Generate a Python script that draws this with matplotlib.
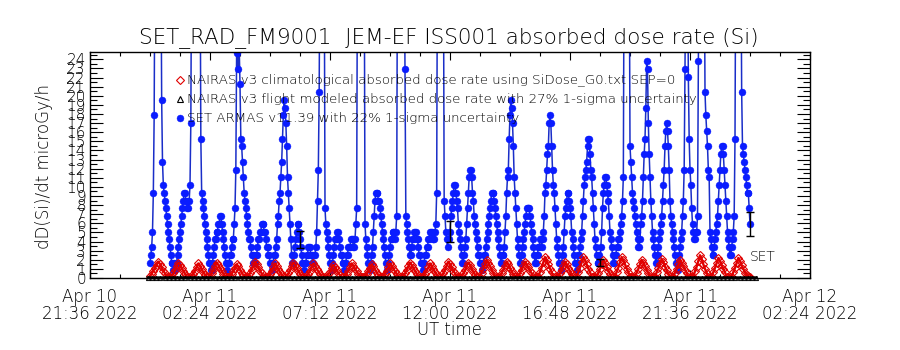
import numpy as np
import datetime as dt
import matplotlib
matplotlib.use("Agg")
import matplotlib.pyplot as plt
from matplotlib.lines import Line2D
from matplotlib.ticker import MultipleLocator

# ---------------- data ----------------
title = "SET_RAD_FM9001  JEM-EF ISS001 absorbed dose rate (Si)"
y_label = "dD(Si)/dt microGy/h"
x_label = "UT time"
legend_labels = [
    "NAIRAS v3 climatological absorbed dose rate using SiDose_G0.txt SEP=0",
    "NAIRAS v3 flight modeled absorbed dose rate with 27% 1-sigma uncertainty",
    "SET ARMAS v11.39 with 22% 1-sigma uncertainty",
]
x_tick_labels = ["Apr 10\n21:36 2022", "Apr 11\n02:24 2022", "Apr 11\n07:12 2022",
                 "Apr 11\n12:00 2022", "Apr 11\n16:48 2022", "Apr 11\n21:36 2022",
                 "Apr 12\n02:24 2022"]
y_tick_labels = [str(v) for v in range(0, 25)]

axis_start = dt.datetime(2022, 4, 10, 21, 36)
axis_end = dt.datetime(2022, 4, 12, 2, 24)

# SET ARMAS: counts per 2-minute sample starting Apr 11 00:00 (one row = one hour)
set_start = dt.datetime(2022, 4, 11, 0, 0)
set_step_min = 2
set_dose_per_count = 0.85
set_counts = [
    2, 3, 4, 6, 11, 21, 45, 45, 45, 45, 45, 45, 45, 45, 23, 15, 12, 11, 10, 9, 8, 7, 6, 5, 4, 3, 2, 2, 1, 2,
    1, 2, 2, 3, 4, 5, 6, 7, 8, 9, 10, 11, 11, 10, 10, 9, 9, 10, 12, 20, 45, 45, 45, 45, 45, 45, 45, 45, 45, 45,
    45, 18, 11, 10, 9, 8, 7, 6, 5, 4, 3, 2, 2, 1, 1, 2, 3, 4, 5, 5, 6, 6, 7, 7, 8, 8, 7, 6, 5, 4,
    3, 2, 2, 1, 2, 2, 3, 3, 4, 5, 5, 7, 9, 14, 30, 29, 27, 30, 25, 18, 17, 15, 13, 11, 10, 9, 8, 7, 6, 5,
    5, 4, 3, 3, 2, 2, 2, 3, 3, 4, 5, 5, 6, 6, 7, 7, 7, 6, 6, 5, 4, 4, 3, 3, 2, 2, 1, 2, 2, 3,
    3, 4, 5, 7, 8, 10, 11, 13, 15, 18, 21, 23, 22, 20, 17, 13, 11, 9, 7, 5, 3, 2, 2, 3, 4, 5, 6, 7, 7, 6,
    5, 4, 3, 2, 2, 1, 2, 2, 3, 3, 4, 4, 4, 3, 3, 2, 2, 3, 3, 4, 6, 10, 14, 24, 45, 45, 45, 45, 45, 45,
    9, 7, 6, 5, 4, 3, 2, 2, 1, 2, 3, 4, 5, 5, 6, 6, 5, 5, 4, 3, 3, 2, 2, 1, 2, 2, 3, 3, 4, 4,
    4, 5, 5, 5, 4, 4, 5, 7, 9, 45, 45, 45, 45, 45, 45, 45, 45, 45, 7, 5, 4, 3, 2, 2, 1, 2, 3, 4, 6, 8,
    10, 11, 11, 11, 10, 10, 9, 8, 7, 6, 5, 4, 3, 2, 2, 1, 2, 3, 4, 5, 5, 6, 6, 6, 5, 6, 8, 45, 45, 45,
    45, 45, 45, 45, 45, 45, 27, 8, 7, 6, 5, 4, 3, 3, 4, 5, 5, 6, 6, 6, 5, 5, 4, 3, 3, 2, 2, 1, 2, 2,
    3, 3, 4, 4, 5, 5, 6, 6, 6, 5, 5, 5, 6, 7, 11, 45, 45, 45, 45, 45, 45, 45, 45, 10, 8, 6, 5, 4, 5, 5,
    6, 8, 9, 10, 11, 12, 12, 11, 10, 9, 7, 6, 5, 4, 3, 2, 2, 3, 4, 5, 7, 9, 11, 13, 14, 14, 13, 11, 10, 8,
    7, 6, 5, 4, 3, 3, 2, 2, 1, 2, 2, 3, 3, 4, 5, 6, 7, 8, 9, 10, 11, 11, 11, 10, 9, 8, 7, 6, 5, 4,
    3, 2, 2, 3, 3, 4, 6, 8, 11, 13, 14, 18, 21, 23, 22, 20, 17, 13, 11, 9, 7, 5, 4, 3, 2, 2, 3, 4, 5, 6,
    7, 8, 9, 9, 9, 9, 8, 7, 6, 5, 4, 3, 2, 2, 3, 3, 4, 4, 5, 5, 4, 5, 6, 8, 11, 12, 14, 16, 17, 20,
    21, 20, 17, 14, 12, 11, 9, 7, 5, 4, 3, 2, 2, 1, 2, 3, 4, 6, 8, 9, 10, 11, 11, 10, 9, 8, 6, 5, 4, 3,
    2, 2, 1, 2, 3, 3, 4, 5, 6, 8, 10, 12, 13, 14, 15, 17, 18, 18, 16, 14, 13, 11, 9, 7, 5, 4, 3, 2, 2, 3,
    2, 4, 6, 9, 11, 12, 13, 13, 12, 11, 10, 8, 6, 5, 4, 3, 2, 2, 3, 3, 4, 4, 5, 5, 6, 7, 8, 10, 13, 45,
    45, 45, 45, 45, 45, 45, 17, 15, 13, 11, 10, 9, 8, 7, 6, 5, 4, 4, 5, 7, 8, 10, 13, 16, 18, 22, 28, 27, 20, 16,
    13, 10, 8, 6, 5, 4, 3, 2, 2, 3, 4, 5, 6, 7, 8, 10, 12, 14, 17, 19, 20, 19, 17, 14, 10, 8, 7, 6, 5, 4,
    3, 2, 2, 1, 2, 3, 4, 5, 6, 8, 10, 14, 27, 45, 45, 45, 26, 18, 14, 12, 9, 7, 6, 5, 5, 6, 6, 8, 28, 45,
    45, 45, 45, 45, 45, 45, 24, 21, 19, 17, 14, 13, 6, 5, 4, 3, 3, 4, 5, 6, 7, 8, 10, 12, 14, 16, 17, 17, 16, 14,
    12, 10, 8, 6, 5, 4, 3, 3, 4, 5, 6, 8, 18, 45, 45, 45, 45, 45, 45, 45, 24, 17, 16, 15, 14, 13, 12, 11, 11, 9,
    7,
]
set_errorbar_first = 180
set_errorbar_every = 180
set_rel_sigma = 0.22

# NAIRAS climatological: 4-minute samples starting Apr 11 00:00
nairas_clim_start = dt.datetime(2022, 4, 11, 0, 0)
nairas_clim_step_min = 4
nairas_clim = [
    0.2, 0.45, 0.8, 1.1, 1.45,
    1.8, 1.53, 1.17, 0.81, 0.5, 0.15, 0.1, 0.1, 0.15, 0.51, 0.85, 1.28,
    1.7, 1.45, 1.1, 0.77, 0.48, 0.15, 0.1, 0.1, 0.15, 0.48, 0.8, 1.2,
    1.6, 1.36, 0.96, 0.64, 0.35, 0.12, 0.1, 0.15, 0.51, 0.85, 1.28,
    1.7, 1.45, 1.1, 0.77, 0.48, 0.15, 0.1, 0.1, 0.15, 0.45, 0.75, 1.13,
    1.5, 1.28, 0.9, 0.6, 0.33, 0.12, 0.1, 0.15, 0.54, 0.9, 1.35,
    1.8, 1.53, 1.17, 0.81, 0.5, 0.15, 0.1, 0.1, 0.15, 0.48, 0.8, 1.2,
    1.6, 1.36, 0.96, 0.64, 0.35, 0.12, 0.1, 0.15, 0.51, 0.85, 1.28,
    1.7, 1.45, 1.1, 0.77, 0.48, 0.15, 0.1, 0.1, 0.15, 0.48, 0.8, 1.2,
    1.6, 1.36, 1.04, 0.72, 0.45, 0.15, 0.1, 0.1, 0.15, 0.42, 0.7, 1.05,
    1.4, 1.19, 0.84, 0.56, 0.31, 0.12, 0.1, 0.15, 0.48, 0.8, 1.2,
    1.6, 1.36, 1.04, 0.72, 0.45, 0.15, 0.1, 0.1, 0.15, 0.45, 0.75, 1.13,
    1.5, 1.28, 0.9, 0.6, 0.33, 0.12, 0.1, 0.15, 0.48, 0.8, 1.2,
    1.6, 1.36, 1.04, 0.72, 0.45, 0.15, 0.1, 0.1, 0.15, 0.51, 0.85, 1.28,
    1.7, 1.45, 1.1, 0.77, 0.48, 0.15, 0.1, 0.1, 0.15, 0.48, 0.8, 1.2,
    1.6, 1.36, 0.96, 0.64, 0.35, 0.12, 0.1, 0.15, 0.54, 0.9, 1.35,
    1.8, 1.53, 1.17, 0.81, 0.5, 0.15, 0.1, 0.1, 0.15, 0.51, 0.85, 1.28,
    1.7, 1.45, 1.02, 0.68, 0.37, 0.12, 0.1, 0.15, 0.6, 1.0, 1.5,
    2.0, 1.7, 1.3, 0.9, 0.56, 0.15, 0.1, 0.1, 0.15, 0.54, 0.9, 1.35,
    1.8, 1.53, 1.08, 0.72, 0.4, 0.12, 0.1, 0.15, 0.54, 0.9, 1.35,
    1.8, 1.53, 1.17, 0.81, 0.5, 0.15, 0.1, 0.1, 0.15, 0.69, 1.15, 1.73,
    2.3, 1.96, 1.5, 1.04, 0.64, 0.15, 0.1, 0.1, 0.15, 0.54, 0.9, 1.35,
    1.8, 1.53, 1.08, 0.72, 0.4, 0.12, 0.1, 0.15, 0.69, 1.15, 1.73,
    2.3, 1.96, 1.5, 1.04, 0.64, 0.15, 0.1, 0.1, 0.15, 0.6, 1.0, 1.5,
    2.0, 1.7, 1.2, 0.8, 0.44, 0.12, 0.1, 0.15, 0.69, 1.15, 1.73,
    2.3, 1.96, 1.5, 1.04, 0.64, 0.15, 0.1, 0.1, 0.15, 0.6, 1.0, 1.5,
    2.0, 1.7, 1.3, 0.9, 0.56, 0.15, 0.1, 0.1, 0.15, 0.63, 1.05, 1.58,
    2.1, 1.79, 1.26, 0.84, 0.46, 0.12, 0.1, 0.15, 0.6, 1.0, 1.5,
    2.0, 1.7, 1.3, 0.9, 0.56, 0.15, 0.1, 0.1, 0.15, 0.75, 1.25, 1.88,
    2.5, 2.13, 1.5, 1.0, 0.55, 0.12, 0.1, 0.15, 0.66, 1.1, 1.65,
    2.2, 1.87, 1.43, 0.99, 0.62, 0.15, 0.1, 0.1, 0.15, 0.66, 1.1, 1.65,
    2.2, 1.85, 1.4, 1.0, 0.6, 0.35, 0.2, 0.15,
]

# NAIRAS flight modeled: 10-minute samples starting Apr 10 23:55
nairas_flight_start = dt.datetime(2022, 4, 10, 23, 55)
nairas_flight_step_min = 10
nairas_flight = [
    0.02, 0.02, 0.02, 0.03, 0.02, 0.02, 0.02, 0.02, 0.03, 0.02, 0.02, 0.02,
    0.02, 0.02, 0.03, 0.02, 0.02, 0.02, 0.02, 0.02, 0.03, 0.02, 0.02, 0.02,
    0.02, 0.02, 0.02, 0.03, 0.02, 0.02, 0.02, 0.02, 0.02, 0.03, 0.02, 0.02,
    0.02, 0.02, 0.03, 0.02, 0.02, 0.02, 0.02, 0.02, 0.03, 0.02, 0.02, 0.02,
    0.02, 0.02, 0.02, 0.03, 0.02, 0.02, 0.02, 0.02, 0.02, 0.03, 0.02, 0.02,
    0.02, 0.02, 0.03, 0.02, 0.02, 0.02, 0.02, 0.02, 0.03, 0.02, 0.02, 0.02,
    0.02, 0.02, 0.02, 0.03, 0.02, 0.02, 0.02, 0.02, 0.02, 0.03, 0.02, 0.02,
    0.02, 0.02, 0.03, 0.02, 0.02, 0.02, 0.02, 0.02, 0.03, 0.02, 0.02, 0.02,
    0.02, 0.02, 0.02, 0.03, 0.02, 0.02, 0.02, 0.02, 0.02, 0.03, 0.02, 0.02,
    0.02, 0.02, 0.03, 0.02, 0.02, 0.02, 0.02, 0.02, 0.03, 0.02, 0.02, 0.02,
    0.02, 0.02, 0.02, 0.03, 0.02, 0.02, 0.02, 0.02, 0.02, 0.03, 0.02, 0.02,
    0.02, 0.02, 0.03, 0.02, 0.02, 0.02, 0.02, 0.02, 0.03, 0.02, 0.02, 0.02,
    0.02, 0.02, 0.02,
]

# ---------------- helpers ----------------
def time_axis(start, step_min, n):
    return np.array([start + dt.timedelta(minutes=step_min * i) for i in range(n)])

set_vals = np.array(set_counts, dtype=float) * set_dose_per_count
set_t = time_axis(set_start, set_step_min, len(set_vals))
clim_t = time_axis(nairas_clim_start, nairas_clim_step_min, len(nairas_clim))
flight_t = time_axis(nairas_flight_start, nairas_flight_step_min, len(nairas_flight))

W, H = 900, 350
fig = plt.figure(figsize=(W / 100, H / 100), dpi=100)
fig.patch.set_facecolor("white")
ax = fig.add_axes([90 / W, 1 - 278 / H, 720 / W, 226 / H])

FONT = "DejaVu Sans"
WEIGHT = "light"

blue_line = "#1a2ec8"
blue_dot = "#0a1cff"
red = "#e00000"

ax.plot(set_t, set_vals, color=blue_line, lw=1.1, zorder=2)
ax.plot(set_t, set_vals, ls="none", marker="o", ms=5.0, mfc=blue_dot, mec=blue_dot,
        mew=0.3, zorder=2.5)

ax.plot(clim_t, nairas_clim, color=red, lw=1.7, zorder=3)
ax.plot(clim_t, nairas_clim, ls="none", marker="D", ms=4.0, mfc="none",
        mec=red, mew=0.8, zorder=3.1)

ax.plot(flight_t, nairas_flight, color="black", lw=2.2, marker="^", ms=3.0, mfc="none",
        mec="black", mew=0.7, zorder=4, clip_on=False)

idx = np.arange(set_errorbar_first, len(set_vals), set_errorbar_every)
ax.errorbar(set_t[idx], set_vals[idx], yerr=set_rel_sigma * set_vals[idx], fmt="none",
            ecolor="black", elinewidth=1.0, capsize=3, capthick=1.0, zorder=5)

ax.set_xlim(axis_start, axis_end)
ax.set_ylim(0, 24.8)

major_x = [axis_start + dt.timedelta(minutes=288 * k) for k in range(len(x_tick_labels))]
minor_x = [axis_start + dt.timedelta(minutes=72 * k) for k in range(4 * (len(x_tick_labels) - 1) + 1)]
ax.set_xticks(major_x)
ax.set_xticklabels(x_tick_labels, fontsize=12, family=FONT, weight=WEIGHT, linespacing=0.95)
ax.set_xticks(minor_x, minor=True)
ax.set_yticks(range(len(y_tick_labels)))
ax.set_yticklabels(y_tick_labels, fontsize=11, family=FONT, weight=WEIGHT)
ax.yaxis.set_minor_locator(MultipleLocator(0.5))

ax.tick_params(axis="both", which="both", direction="in", top=True, right=True,
               color="black", width=0.8)
ax.tick_params(axis="y", which="major", length=9.5, pad=3)
ax.tick_params(axis="y", which="minor", length=5)
ax.tick_params(axis="x", which="major", length=6, pad=7)
ax.tick_params(axis="x", which="minor", length=3)
for s in ax.spines.values():
    s.set_linewidth(1.0)
    s.set_color("black")

def fx(x):
    return x / W

def fy(y):
    return 1 - y / H

fig.text(fx(449), fy(38), title, ha="center", va="center", fontsize=15.5,
         family=FONT, weight=WEIGHT)
fig.text(fx(44), fy(167), y_label, ha="center", va="center", rotation=90,
         fontsize=12, family=FONT, weight=WEIGHT)
fig.text(fx(449), fy(330), x_label, ha="center", va="center", fontsize=12,
         family=FONT, weight=WEIGHT)

leg_y = [80, 99, 118]
leg_styles = [
    dict(marker="D", ms=3.8, mfc="none", mec=red, mew=0.8),
    dict(marker="^", ms=4.5, mfc="none", mec="black", mew=0.8),
    dict(marker="o", ms=5.0, mfc=blue_dot, mec=blue_dot, mew=0.3),
]
for yy, lab, st in zip(leg_y, legend_labels, leg_styles):
    fig.add_artist(Line2D([fx(180)], [fy(yy)], transform=fig.transFigure, ls="none", **st))
    fig.text(fx(187), fy(yy), lab, ha="left", va="center", fontsize=9.6,
             family=FONT, weight=WEIGHT)

fig.text(fx(750), fy(257), "SET", ha="left", va="center", fontsize=10,
         family=FONT, weight=WEIGHT)

fig.savefig("out.png", dpi=100, facecolor="white")
